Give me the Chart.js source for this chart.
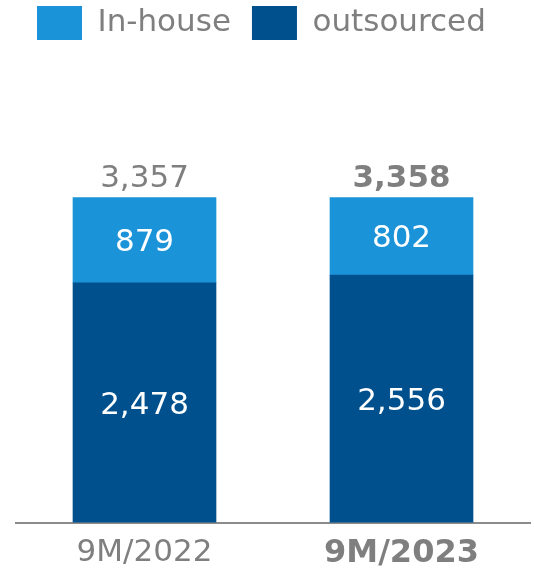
<!DOCTYPE html>
<html>
<head>
<meta charset="utf-8">
<script src="https://cdn.jsdelivr.net/npm/chart.js@4.4.0/dist/chart.umd.min.js"></script>
<style>
  html, body { margin: 0; padding: 0; background: #fff; overflow: hidden; }
  #wrap { position: relative; width: 534px; height: 600px; margin-top: -15px; }
</style>
</head>
<body>
<div id="wrap"><canvas id="chart"></canvas></div>
<script>
const periods = ["9M/2022", "9M/2023"];
const outsourced = [2478, 2556];
const inHouse = [879, 802];
const totals = periods.map((_, i) => outsourced[i] + inHouse[i]);

const FONT = '"DejaVu Sans", sans-serif';
const GREY = "#7f7f7f";
const fmt = (v) => v.toLocaleString("en-US");

// value inside each segment, and the stack total above the bar
const valueLabels = {
  id: "valueLabels",
  afterDatasetsDraw(chart) {
    const { ctx } = chart;
    ctx.save();
    ctx.textAlign = "center";
    ctx.textBaseline = "alphabetic";
    ctx.font = "31px " + FONT;
    ctx.fillStyle = "#ffffff";
    chart.data.datasets.forEach((ds, di) => {
      chart.getDatasetMeta(di).data.forEach((bar, i) => {
        const mid = (bar.y + bar.base) / 2;
        ctx.fillText(fmt(ds.data[i]), bar.x, mid + 11);
      });
    });
    const top = chart.getDatasetMeta(chart.data.datasets.length - 1);
    ctx.fillStyle = GREY;
    top.data.forEach((bar, i) => {
      ctx.font = (i === 1 ? "bold " : "") + "31px " + FONT;
      ctx.fillText(fmt(totals[i]), bar.x, bar.y - 11);
    });
    ctx.restore();
  },
};

new Chart(document.getElementById("chart"), {
  type: "bar",
  data: {
    labels: periods,
    datasets: [
      {
        label: "outsourced",
        data: outsourced,
        backgroundColor: "#00508e",
      },
      {
        label: "In-house",
        data: inHouse,
        backgroundColor: "#1a93d8",
      },
    ],
  },
  options: {
    responsive: true,
    maintainAspectRatio: false,
    animation: false,
    barThickness: 143,
    layout: { padding: { left: 16, right: 4, top: 0, bottom: 0 } },
    plugins: {
      tooltip: { enabled: false },
      legend: {
        position: "top",
        align: "start",
        reverse: true,
        labels: {
          boxWidth: 45,
          boxHeight: 34,
          padding: 21,
          color: GREY,
          font: { family: FONT, size: 31 },
        },
      },
    },
    scales: {
      x: {
        stacked: true,
        grid: { display: false, drawTicks: false },
        border: { display: true, color: "#8c8c8c", width: 2 },
        ticks: {
          padding: 12,
          color: GREY,
          font: (c) => ({
            family: FONT,
            size: c.index === 1 ? 32 : 31,
            weight: c.index === 1 ? "bold" : "normal",
          }),
        },
      },
      y: {
        stacked: true,
        display: false,
        min: 0,
        max: 4882,
      },
    },
  },
  plugins: [valueLabels],
});
</script>
</body>
</html>
